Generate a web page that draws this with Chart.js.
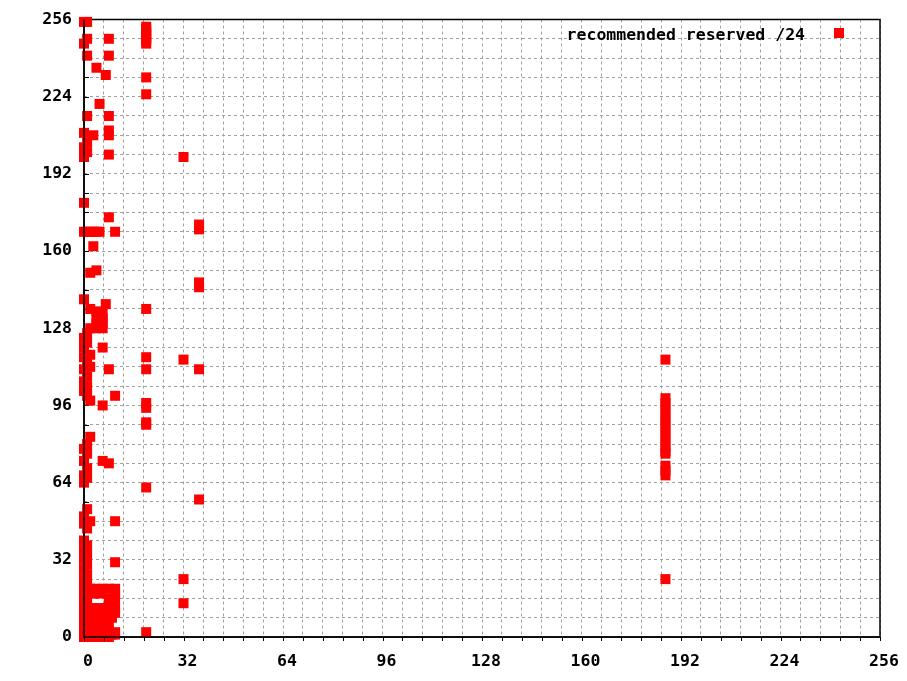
<!DOCTYPE html>
<html>
<head>
<meta charset="utf-8">
<script src="https://cdn.jsdelivr.net/npm/chart.js@4.4.1/dist/chart.umd.min.js"></script>
<style>
  html, body { margin: 0; padding: 0; background: #fff; }
  #wrap { width: 907px; height: 681px; }
</style>
</head>
<body>
<div id="wrap"><canvas id="chart" width="907" height="681"></canvas></div>
<script>
// labelled ticks on both axes
const tickValues = [0, 32, 64, 96, 128, 160, 192, 224, 256];
const legendLabel = 'recommended reserved /24';

// [x, y] pairs of the dense group near x = 0..10
const nearZero = [
  [0,255],[1,255],[1,248],[0,246],[8,248],[1,241],[8,241],[4,236],[7,233],[5,221],
  [1,216],[8,216],[0,209],[3,208],[8,210],[8,208],[1,205],[0,203],[1,201],[0,199],[8,200],
  [0,180],[8,174],[0,168],[1,168],[2,168],[3,168],[4,168],[5,168],[10,168],[3,162],
  [2,151],[4,152],[0,140],[2,136],[7,138],
  [4,135],[6,134],[4,132],[6,132],[4,130],[6,130],[2,128],[4,128],[6,128],
  [1,126],[0,124],[1,122],[0,120],[6,120],
  [2,117],[0,116],[1,114],[2,112],[0,111],[1,108],[0,106],[1,104],[0,102],[1,100],[2,98],
  [8,111],[10,100],[6,96],
  [2,83],[1,80],[0,78],[1,76],[0,73],[1,70],[0,67],[1,66],[0,64],[6,73],[8,72],
  [1,53],[0,50],[2,48],[0,47],[1,45],[10,48],
  [0,40],[1,38],[0,36],[1,34],[0,32],[1,30],[0,28],[1,26],[0,24],[1,22],[10,31],
  [0,20],[2,20],[4,20],[6,20],[8,20],[10,20],
  [0,18],[1,18],[3,18],[5,18],[10,18],
  [0,16],[1,16],[8,16],[10,16],[8,14],
  [0,12],[1,12],[3,12],[5,12],[7,12],[9,12],[10,12],
  [0,10],[2,10],[4,10],[6,10],[8,10],[10,10],
  [0,8],[1,8],[3,8],[5,8],[7,8],[9,8],
  [0,6],[2,6],[4,6],[6,6],[8,6],
  [0,4],[1,4],[3,4],[5,4],[7,4],
  [0,2],[2,2],[4,2],[6,2],[8,2],[10,2],
  [0,1],[1,1],[3,1],[5,1],[7,1],[9,1],[10,1],
  [0,0],[2,0],[4,0],[6,0],[8,0]
];

// y values of the single columns further right
const col20 = [253,252,251,250,249,248,247,246,232,225,136,116,111,97,95,89,88,62,2];
const col32 = [199,115,24,14];
const col37 = [171,169,147,145,111,57];
const col187 = [115,99,97,95,93,91,89,87,85,83,81,79,77,76,71,69,67,24];

const points = nearZero.map(p => ({ x: p[0], y: p[1] }))
  .concat(col20.map(y => ({ x: 20, y })))
  .concat(col32.map(y => ({ x: 32, y })))
  .concat(col37.map(y => ({ x: 37, y })))
  .concat(col187.map(y => ({ x: 187, y })));

const tickFont = { family: 'DejaVu Sans Mono', size: 16.5, weight: 'bold' };

const framePlugin = {
  id: 'frame',
  beforeDatasetsDraw(chart) {
    const { ctx, chartArea: a } = chart;
    ctx.save();
    ctx.strokeStyle = '#000';
    ctx.lineWidth = 1.5;
    ctx.strokeRect(a.left, a.top, a.right - a.left, a.bottom - a.top);
    // small inward ticks on the left axis
    ctx.lineWidth = 1;
    chart.scales.y.ticks.forEach(t => {
      const py = Math.round(chart.scales.y.getPixelForValue(t.value)) + 0.5;
      ctx.beginPath();
      ctx.moveTo(a.left, py);
      ctx.lineTo(a.left + 5, py);
      ctx.stroke();
    });
    ctx.restore();
  },
  afterDatasetsDraw(chart) {
    const { ctx, chartArea: a } = chart;
    ctx.save();
    ctx.strokeStyle = '#000';
    ctx.lineWidth = 1.5;
    ctx.beginPath();
    ctx.moveTo(a.left, a.top);
    ctx.lineTo(a.left, a.bottom);
    ctx.lineTo(a.right, a.bottom);
    ctx.stroke();
    // ticks below the x axis
    ctx.lineWidth = 1;
    chart.scales.x.ticks.forEach(t => {
      const px = Math.round(chart.scales.x.getPixelForValue(t.value)) + 0.5;
      ctx.beginPath();
      ctx.moveTo(px, a.bottom);
      ctx.lineTo(px, a.bottom + 4);
      ctx.stroke();
    });
    // key in the top right corner
    ctx.font = 'bold 16.5px "DejaVu Sans Mono"';
    ctx.fillStyle = '#000';
    ctx.textAlign = 'right';
    ctx.textBaseline = 'alphabetic';
    ctx.fillText(legendLabel, 805, 40);
    ctx.fillStyle = '#ff0000';
    ctx.fillRect(834, 28, 10, 10);
    ctx.restore();
  }
};

new Chart(document.getElementById('chart'), {
  type: 'scatter',
  data: {
    datasets: [{
      label: legendLabel,
      data: points,
      pointStyle: 'rect',
      pointRadius: 7.07,
      pointHoverRadius: 7.07,
      backgroundColor: '#ff0000',
      borderWidth: 0,
      clip: false
    }]
  },
  options: {
    responsive: false,
    animation: false,
    layout: { padding: { top: 19.5, right: 27, left: 0, bottom: 0 } },
    plugins: {
      legend: { display: false },
      tooltip: { enabled: false }
    },
    scales: {
      x: {
        type: 'linear',
        min: 0,
        max: 256,
        afterFit: (scale) => {
          scale.height = 44;
          scale.paddingLeft = 0;
          scale.paddingRight = 0;
        },
        grid: { color: '#a0a0a0', lineWidth: 1, drawTicks: false },
        border: { display: false, dash: [3, 3] },
        ticks: {
          stepSize: 6.4,
          maxTicksLimit: 100,
          autoSkip: false,
          maxRotation: 0,
          minRotation: 0,
          padding: 15,
          labelOffset: 4,
          color: '#000',
          font: tickFont,
          callback: (v) => tickValues.includes(v) ? String(v) : ''
        }
      },
      y: {
        type: 'linear',
        min: 0,
        max: 256,
        afterFit: (scale) => {
          scale.width = 84;
          scale.paddingTop = 0;
          scale.paddingBottom = 0;
        },
        grid: { color: '#a0a0a0', lineWidth: 1, drawTicks: false },
        border: { display: false, dash: [3, 3] },
        ticks: {
          stepSize: 8,
          maxTicksLimit: 100,
          autoSkip: false,
          padding: 12,
          color: '#000',
          font: tickFont,
          callback: (v) => tickValues.includes(v) ? String(v) : ''
        }
      }
    }
  },
  plugins: [framePlugin]
});
</script>
</body>
</html>
